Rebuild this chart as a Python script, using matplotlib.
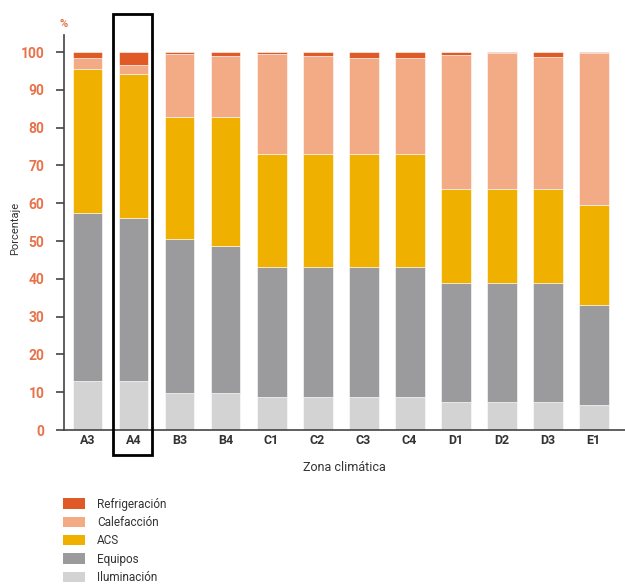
import numpy as np
import matplotlib
matplotlib.use("Agg")
import matplotlib.pyplot as plt
from matplotlib.patches import Patch, Rectangle

# zonas climáticas y reparto del consumo (%)
zonas = ["A3", "A4", "B3", "B4", "C1", "C2", "C3", "C4", "D1", "D2", "D3", "E1"]
iluminacion = [13.0, 13.0, 9.7, 9.7, 8.6, 8.6, 8.6, 8.6, 7.3, 7.3, 7.3, 6.6]
equipos = [44.5, 43.2, 40.7, 39.0, 34.6, 34.6, 34.6, 34.6, 31.7, 31.7, 31.7, 26.5]
acs = [38.0, 38.0, 32.5, 34.2, 29.7, 29.8, 29.8, 29.8, 24.7, 24.7, 24.7, 26.4]
calefaccion = [3.0, 2.4, 16.6, 16.0, 26.6, 25.9, 25.3, 25.3, 35.5, 36.0, 35.1, 40.2]
refrigeracion = [1.5, 3.4, 0.5, 1.1, 0.5, 1.1, 1.7, 1.7, 0.8, 0.3, 1.2, 0.3]

series = [
    ("Iluminación", iluminacion, "#d3d3d3"),
    ("Equipos", equipos, "#9b9b9d"),
    ("ACS", acs, "#f0b000"),
    ("Calefacción", calefaccion, "#f3ab86"),
    ("Refrigeración", refrigeracion, "#e05a28"),
]

plt.rcParams["font.family"] = ["Roboto", "DejaVu Sans"]

fig = plt.figure(figsize=(6.25, 5.86), dpi=100)
ax = fig.add_axes([64 / 625, 1 - 430 / 586, 1 - 64 / 625, (430 - 35) / 586])

x = np.arange(len(zonas))
bottom = np.zeros(len(zonas))
for nombre, vals, color in series:
    ax.bar(x, vals, width=0.65, bottom=bottom, color=color,
           edgecolor="white", linewidth=0.4, label=nombre)
    bottom += np.array(vals)

ax.set_xlim(-0.51, 11.68)
ax.set_ylim(0, 104.5)

for s in ["top", "right"]:
    ax.spines[s].set_visible(False)
ax.spines["left"].set_color("#444444")
ax.spines["bottom"].set_color("#444444")
ax.spines["left"].set_linewidth(1.2)
ax.spines["bottom"].set_linewidth(1.2)

ax.set_yticks(range(0, 101, 10))
ax.tick_params(axis="y", colors="#444444", length=6, width=1.2, pad=8)
for lab in ax.get_yticklabels():
    lab.set_color("#e8734a")
    lab.set_fontweight("bold")
    lab.set_fontsize(10)

ax.set_xticks(x)
ax.set_xticklabels(zonas, fontsize=9, fontweight="bold", color="#333333")
ax.tick_params(axis="x", length=0, pad=3)

ax.set_xlabel("Zona climática", fontsize=9, color="#333333", labelpad=10)
fig.text(15 / 625, 1 - 228 / 586, "Porcentaje", rotation=90, ha="center", va="center",
         fontsize=8, color="#333333")
ax.text(0, 1.015, "%", transform=ax.transAxes, ha="center", va="bottom",
        fontsize=8, fontweight="bold", color="#e8734a")

# recuadro de la zona A4
fig.patches.append(Rectangle((113 / 625, 1 - 455 / 586), 39 / 625, 441 / 586,
                             transform=fig.transFigure, fill=False,
                             edgecolor="black", linewidth=2))

handles = [Patch(facecolor=c, label=n) for n, v, c in series[::-1]]
fig.legend(handles=handles, loc="upper left", bbox_to_anchor=(52 / 625, 1 - 487 / 586),
           frameon=False, fontsize=8.5, handlelength=1.9, handleheight=1.0,
           labelspacing=0.45, handletextpad=1.0, labelcolor="#333333")

fig.savefig("out.png", dpi=100)
